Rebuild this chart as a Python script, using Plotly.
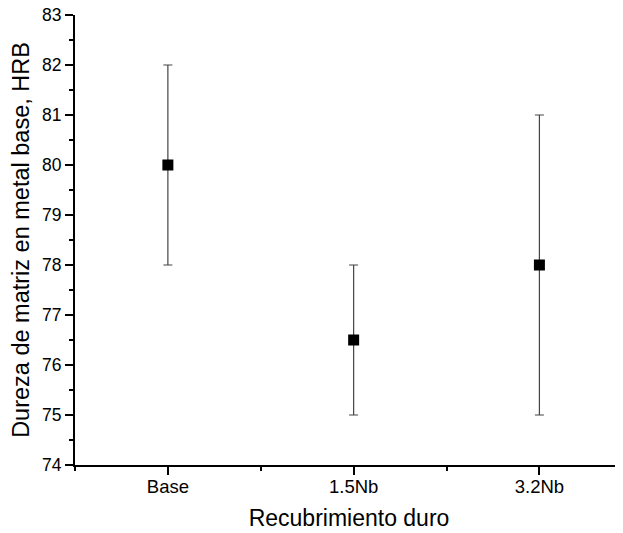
import plotly.graph_objects as go

categories = ["Base", "1.5Nb", "3.2Nb"]
hardness = [80.0, 76.5, 78.0]
err_plus = [2.0, 1.5, 3.0]
err_minus = [2.0, 1.5, 3.0]
y_ticks = [74, 75, 76, 77, 78, 79, 80, 81, 82, 83]

xpos = list(range(len(categories)))

fig = go.Figure()
fig.add_trace(go.Scatter(
    x=xpos, y=hardness, mode="markers",
    marker=dict(symbol="square", size=11, color="black"),
    error_y=dict(type="data", symmetric=False, array=err_plus, arrayminus=err_minus,
                 color="#444444", thickness=1.2, width=4.5),
    showlegend=False,
))

font = "Liberation Sans, Arial, sans-serif"
fig.update_layout(
    width=615, height=525,
    margin=dict(l=67, r=0, t=7, b=68),
    paper_bgcolor="white", plot_bgcolor="white",
    font=dict(family=font, color="black"),
    xaxis=dict(
        range=[-0.5, 2.45], tickvals=xpos, ticktext=categories,
        showline=True, linecolor="black", linewidth=2, mirror=False,
        ticks="outside", ticklen=8, tickwidth=2, tickcolor="black",
        showgrid=False, zeroline=False, ticklabelstandoff=-4,
        tickfont=dict(size=18.5, family=font),
        minor=dict(tickvals=[-0.5, 0.5, 1.5], ticks="outside", ticklen=4, tickwidth=2, tickcolor="black"),
        title=dict(text="Recubrimiento duro", font=dict(size=23, family=font), standoff=14),
    ),
    yaxis=dict(
        range=[74, 83], tickvals=y_ticks,
        showline=True, linecolor="black", linewidth=2, mirror=False,
        ticks="outside", ticklen=8, tickwidth=2, tickcolor="black",
        showgrid=False, zeroline=False, ticklabeloverflow="allow",
        automargin="left",
        tickfont=dict(size=17.5, family=font),
        minor=dict(dtick=0.5, ticks="outside", ticklen=4, tickwidth=2, tickcolor="black"),
        title=dict(text="Dureza de matriz en metal base, HRB", font=dict(size=23.5, family=font), standoff=8),
    ),
)

fig.write_html("out.html")
